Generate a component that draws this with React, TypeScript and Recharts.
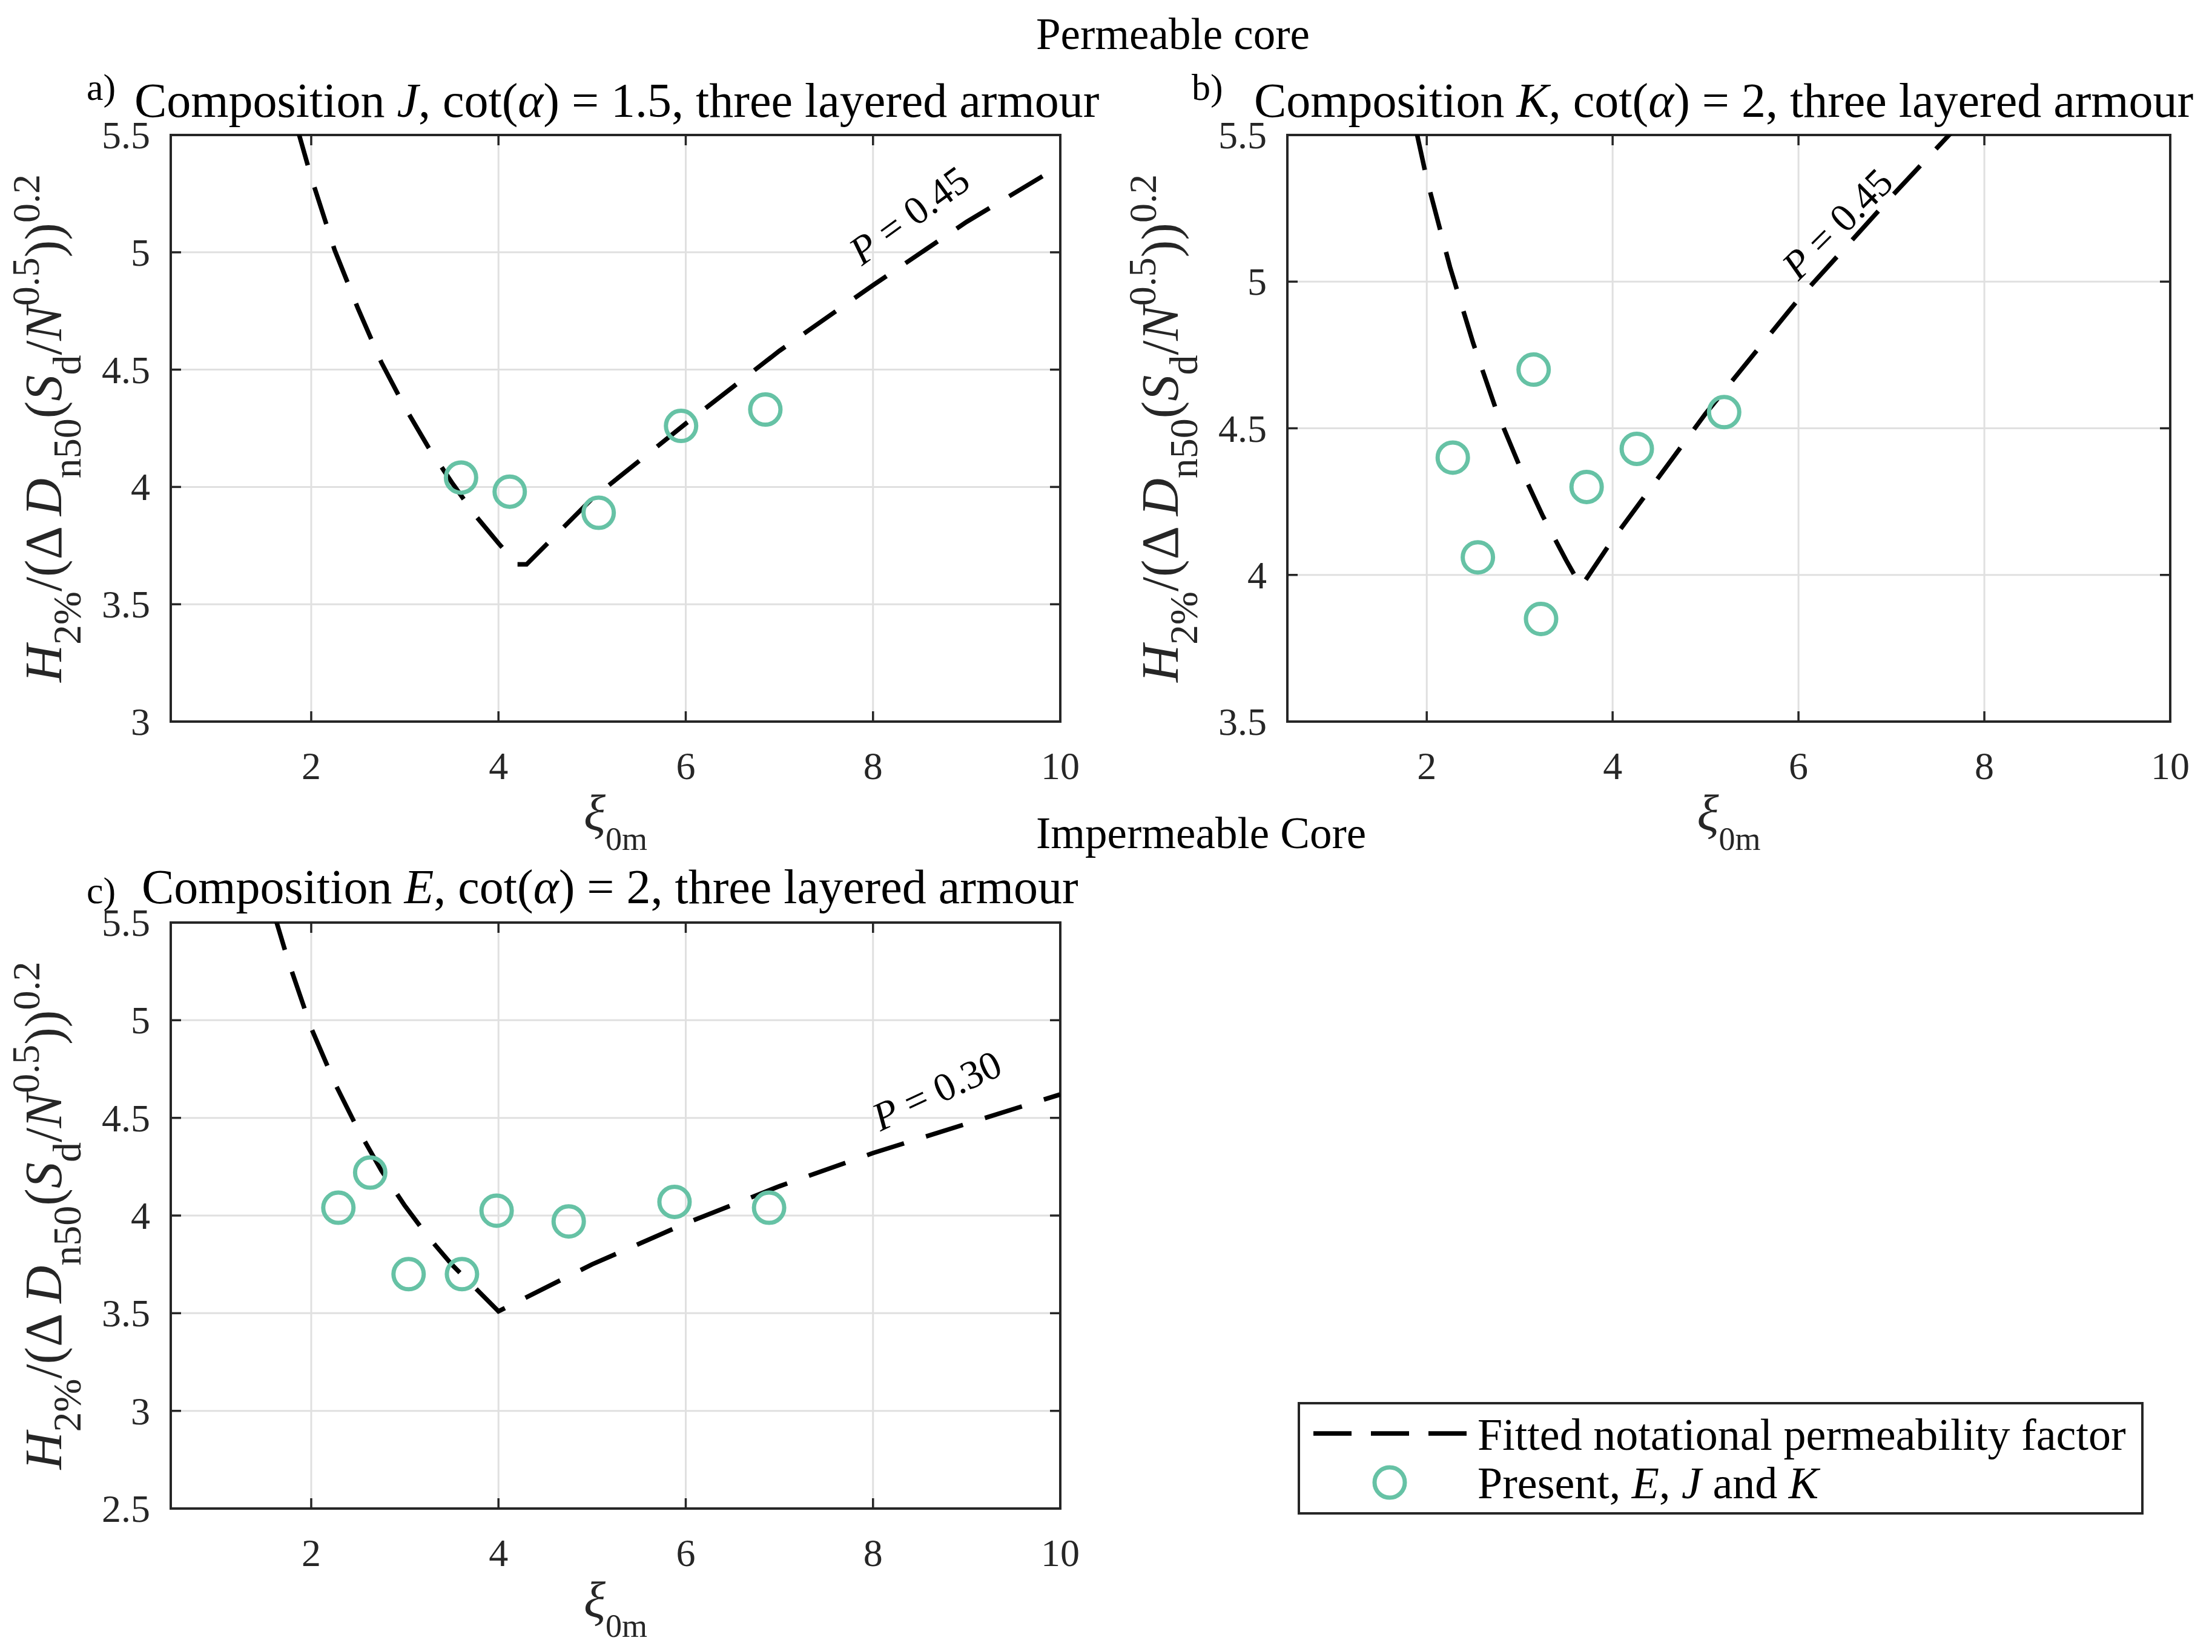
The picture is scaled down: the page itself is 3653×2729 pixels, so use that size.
import React from 'react';
import {
  ComposedChart,
  Line,
  Scatter,
  XAxis,
  YAxis,
  CartesianGrid,
  ReferenceArea,
  ReferenceDot,
} from 'recharts';

const FONT = "'Liberation Serif', 'Times New Roman', serif";
const INK = '#262626';
const TEAL = '#66c2a5';

// shared x axis
const xTicks = [2, 4, 6, 8, 10];
const xDomain: [number, number] = [0.5, 10];

// a) composition J, permeable core
const jXi = [3.6, 4.12, 5.07, 5.95, 6.85];
const jH = [4.04, 3.98, 3.89, 4.26, 4.33];
const jFitXi = [1.85, 2.0, 2.25, 2.5, 2.75, 3.0, 3.25, 3.5, 3.75, 4.0, 4.2, 4.3, 5, 6, 7, 8, 9, 10];
const jFitH = [5.53, 5.32, 5.01, 4.76, 4.53, 4.34, 4.17, 4.02, 3.88, 3.76, 3.67, 3.67, 3.95, 4.27, 4.58, 4.86, 5.13, 5.37];
const jTicks = [3, 3.5, 4, 4.5, 5, 5.5];

// b) composition K, permeable core
const kXi = [2.28, 2.55, 3.15, 3.23, 3.72, 4.26, 5.2];
const kH = [4.4, 4.06, 4.7, 3.85, 4.3, 4.43, 4.555];
const kFitXi = [1.89, 2.0, 2.25, 2.5, 2.75, 3.0, 3.25, 3.5, 3.66, 4, 5, 6, 7, 7.65];
const kFitH = [5.51, 5.35, 5.05, 4.79, 4.56, 4.37, 4.2, 4.05, 3.96, 4.12, 4.55, 4.94, 5.29, 5.51];
const kTicks = [3.5, 4, 4.5, 5, 5.5];

// c) composition E, impermeable core
const eXi = [2.29, 2.63, 3.04, 3.61, 3.98, 4.75, 5.88, 6.89];
const eH = [4.04, 4.22, 3.7, 3.7, 4.025, 3.97, 4.07, 4.04];
const eFitXi = [1.6, 1.75, 2.0, 2.25, 2.5, 2.75, 3.0, 3.25, 3.5, 3.75, 4.0, 5, 6, 7, 8, 9, 10];
const eFitH = [5.55, 5.31, 4.96, 4.68, 4.44, 4.23, 4.05, 3.89, 3.75, 3.63, 3.51, 3.75, 3.96, 4.15, 4.32, 4.47, 4.62];
const eTicks = [2.5, 3, 3.5, 4, 4.5, 5, 5.5];

const zip = (xs: number[], ys: number[]) => xs.map((x, i) => ({ x, y: ys[i] }));

const TOP = 60;
const AXIS_W = 282;
const AXIS_H = 200;
const RIGHT = 60;
const BOTTOM = 40;

type Note = { x: number; y: number; angle: number; value: string };

type PanelProps = {
  left: number;
  top: number;
  width: number;
  height: number;
  yDomain: [number, number];
  yTicks: number[];
  points: { x: number; y: number }[];
  fit: { x: number; y: number }[];
  note: Note;
};

function Panel({ left, top, width, height, yDomain, yTicks, points, fit, note }: PanelProps) {
  const PL = AXIS_W;
  const PT = TOP;
  const PR = AXIS_W + width;
  const PB = TOP + height;

  const xTick = (p: any) => (
    <g>
      <line x1={p.x} x2={p.x} y1={PB} y2={PB - 17} stroke={INK} strokeWidth={3.5} />
      <line x1={p.x} x2={p.x} y1={PT} y2={PT + 17} stroke={INK} strokeWidth={3.5} />
      <text x={p.x} y={PB + 95} textAnchor="middle" fontFamily={FONT} fontSize={64} fill={INK}>
        {p.payload.value}
      </text>
    </g>
  );

  const yTick = (p: any) => (
    <g>
      <line x1={PL} x2={PL + 17} y1={p.y} y2={p.y} stroke={INK} strokeWidth={3.5} />
      <line x1={PR} x2={PR - 17} y1={p.y} y2={p.y} stroke={INK} strokeWidth={3.5} />
      <text x={PL - 34} y={p.y + 22} textAnchor="end" fontFamily={FONT} fontSize={64} fill={INK}>
        {p.payload.value}
      </text>
    </g>
  );

  const xLabel = () => (
    <text x={(PL + PR) / 2} y={PB + 179} textAnchor="middle" fontFamily={FONT} fontSize={84} fill={INK}>
      <tspan fontStyle="italic">ξ</tspan>
      <tspan fontSize={54} dy={33}>0m</tspan>
    </text>
  );

  const yLabel = () => {
    const bx = PL - 181;
    const cy = PT + height / 2;
    return (
      <g transform={`translate(${bx} ${cy}) rotate(-90)`}>
        <text x={0} y={0} textAnchor="middle" fontFamily={FONT} fontSize={86} fill={INK}>
          <tspan fontStyle="italic">H</tspan>
          <tspan fontSize={66} dy={32}>2%</tspan>
          <tspan dy={-32}>{'/(Δ '}</tspan>
          <tspan fontStyle="italic">D</tspan>
          <tspan fontSize={66} dy={32}>n50</tspan>
          <tspan dy={-32}>(</tspan>
          <tspan fontStyle="italic">S</tspan>
          <tspan fontSize={66} dy={32}>d</tspan>
          <tspan dy={-32}>/</tspan>
          <tspan fontStyle="italic">N</tspan>
          <tspan fontSize={64} dy={-37}>0.5</tspan>
          <tspan dy={37}>))</tspan>
          <tspan fontSize={64} dy={-36}>0.2</tspan>
        </text>
      </g>
    );
  };

  const noteLabel = (p: any) => {
    const x = p.viewBox.x;
    const y = p.viewBox.y;
    return (
      <text x={x} y={y} transform={`rotate(${note.angle} ${x} ${y})`} fontFamily={FONT} fontSize={66} fill="#000">
        <tspan fontStyle="italic">P</tspan>
        {` = ${note.value}`}
      </text>
    );
  };

  const ring = (p: any) => (
    <circle cx={p.cx} cy={p.cy} r={25} fill="none" stroke={TEAL} strokeWidth={7} />
  );

  return (
    <div style={{ position: 'absolute', left: left - AXIS_W, top: top - TOP }}>
      <ComposedChart
        width={width + AXIS_W + RIGHT}
        height={height + TOP + AXIS_H + BOTTOM}
        margin={{ top: TOP, right: RIGHT, bottom: BOTTOM, left: 0 }}
      >
        <CartesianGrid stroke="#e0e0e0" strokeWidth={3} />
        <XAxis
          type="number"
          dataKey="x"
          domain={xDomain}
          ticks={xTicks}
          interval={0}
          allowDataOverflow
          height={AXIS_H}
          tickLine={false}
          axisLine={false}
          tick={xTick}
          label={xLabel}
        />
        <YAxis
          type="number"
          dataKey="y"
          domain={yDomain}
          ticks={yTicks}
          interval={0}
          allowDataOverflow
          width={AXIS_W}
          tickLine={false}
          axisLine={false}
          tick={yTick}
          label={yLabel}
        />
        <ReferenceArea
          x1={xDomain[0]}
          x2={xDomain[1]}
          y1={yDomain[0]}
          y2={yDomain[1]}
          fill="none"
          fillOpacity={0}
          stroke={INK}
          strokeWidth={4}
        />
        <Scatter data={points} shape={ring} isAnimationActive={false} />
        <Line
          data={fit}
          dataKey="y"
          type="linear"
          stroke="#000"
          strokeWidth={7.5}
          strokeDasharray="64 38"
          dot={false}
          activeDot={false}
          isAnimationActive={false}
        />
        <ReferenceDot x={note.x} y={note.y} r={0} fill="none" stroke="none" label={noteLabel} />
      </ComposedChart>
    </div>
  );
}

function Overlay() {
  const title = (x: number, y: number, tag: string, tagX: number, tagY: number, letter: string, slope: string) => (
    <g fontFamily={FONT} fill="#000">
      <text x={tagX} y={tagY} fontSize={62}>{tag}</text>
      <text x={x} y={y} fontSize={80}>
        {'Composition '}
        <tspan fontStyle="italic">{letter}</tspan>
        {', cot('}
        <tspan fontStyle="italic">α</tspan>
        {`) = ${slope}, three layered armour`}
      </text>
    </g>
  );
  return (
    <svg width={3653} height={2729} style={{ position: 'absolute', left: 0, top: 0 }}>
      <rect x={0} y={0} width={3653} height={2729} fill="#fff" />
      <text x={1711} y={81} fontFamily={FONT} fontSize={73} fill="#000">Permeable core</text>
      <text x={1711} y={1401} fontFamily={FONT} fontSize={73} fill="#000">Impermeable Core</text>
      {title(222, 193, 'a)', 143, 165, 'J', '1.5')}
      {title(2071, 193, 'b)', 1968, 165, 'K', '2')}
      {title(234, 1492, 'c)', 143, 1492, 'E', '2')}
      <g>
        <rect x={2145} y={2318} width={1393} height={182} fill="#fff" stroke={INK} strokeWidth={4} />
        <line x1={2169} x2={2422} y1={2368} y2={2368} stroke="#000" strokeWidth={7.5} strokeDasharray="63 32" />
        <circle cx={2295} cy={2449} r={25} fill="none" stroke={TEAL} strokeWidth={7} />
        <text x={2440} y={2395} fontFamily={FONT} fontSize={74} fill="#000">Fitted notational permeability factor</text>
        <text x={2440} y={2475} fontFamily={FONT} fontSize={74} fill="#000">
          {'Present, '}
          <tspan fontStyle="italic">E</tspan>
          {', '}
          <tspan fontStyle="italic">J</tspan>
          {' and '}
          <tspan fontStyle="italic">K</tspan>
        </text>
      </g>
    </svg>
  );
}

export default function App() {
  return (
    <div style={{ position: 'absolute', left: 0, top: 0, width: 3653, height: 2729, background: '#fff', overflow: 'hidden' }}>
      <Overlay />
      <Panel
        left={282}
        top={223}
        width={1469}
        height={969}
        yDomain={[3, 5.5]}
        yTicks={jTicks}
        points={zip(jXi, jH)}
        fit={zip(jFitXi, jFitH)}
        note={{ x: 7.88, y: 4.94, angle: -36, value: '0.45' }}
      />
      <Panel
        left={2126}
        top={223}
        width={1458}
        height={969}
        yDomain={[3.5, 5.5]}
        yTicks={kTicks}
        points={zip(kXi, kH)}
        fit={zip(kFitXi, kFitH)}
        note={{ x: 6.0, y: 5.0, angle: -45, value: '0.45' }}
      />
      <Panel
        left={282}
        top={1524}
        width={1469}
        height={968}
        yDomain={[2.5, 5.5]}
        yTicks={eTicks}
        points={zip(eXi, eH)}
        fit={zip(eFitXi, eFitH)}
        note={{ x: 8.08, y: 4.43, angle: -25, value: '0.30' }}
      />
    </div>
  );
}
